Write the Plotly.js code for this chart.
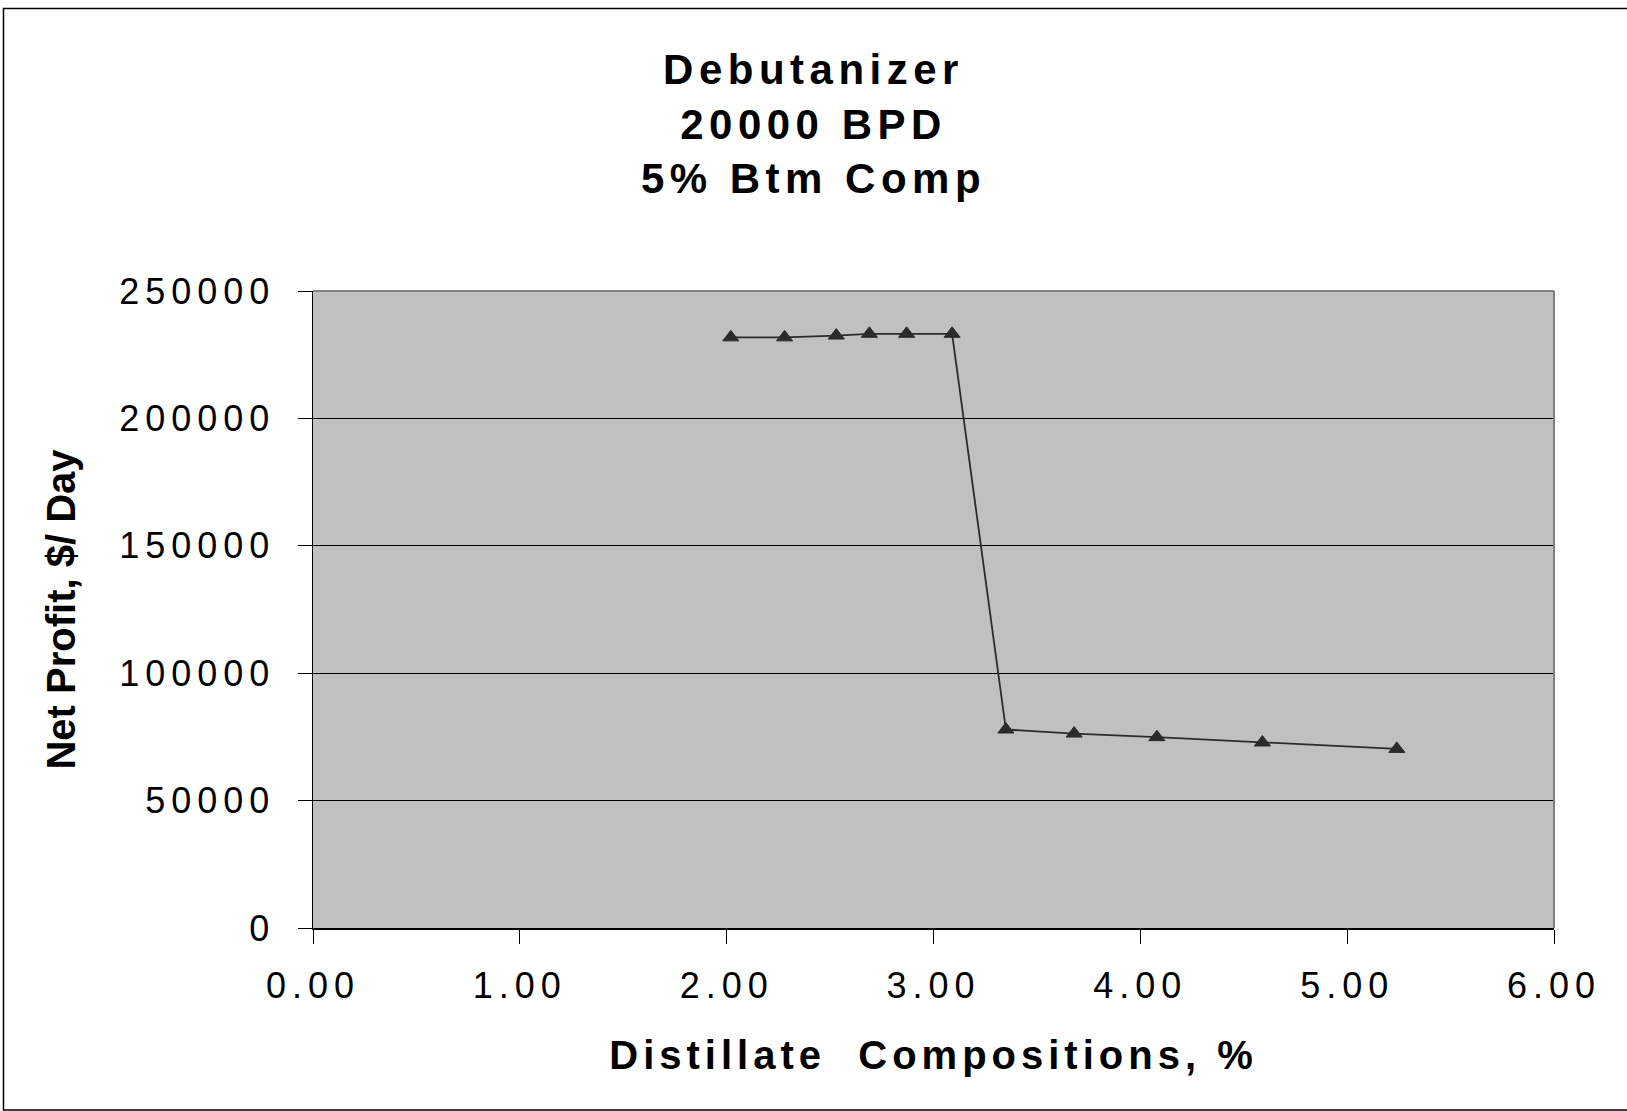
<!DOCTYPE html>
<html>
<head>
<meta charset="utf-8">
<script src="https://cdn.plot.ly/plotly-3.0.1.min.js"></script>
<style>
  html, body { margin: 0; padding: 0; background: #ffffff; }
  #chart { width: 1627px; height: 1111px; }
  #chart .gtitle { letter-spacing: 5.5px; }
  #chart .xtitle { letter-spacing: 5px; }
  #chart .xtick text { letter-spacing: 6px; }
  #chart .ytick text { letter-spacing: 6px; }
</style>
</head>
<body>
<div id="chart"></div>
<script>
// Data
const distillateComp = [2.02, 2.28, 2.53, 2.69, 2.87, 3.09, 3.35, 3.68, 4.08, 4.59, 5.24];
const netProfit = [231800, 231800, 232500, 233200, 233200, 233200, 77900, 76300, 74900, 72800, 70300];

const titleText = "Debutanizer<br>20000 BPD<br>5% Btm Comp";
const xTitleText = "Distillate\u00A0 Compositions, %";
const yTitleText = "Net Profit, $/ Day";

const W = 1627, H = 1111;
const mL = 313, mR = 73, mT = 291, mB = 183;
const pw = W - mL - mR, ph = H - mT - mB;
const px = v => (v - mL) / pw;          // pixel -> paper x
const py = v => (H - mB - v) / ph;      // pixel -> paper y

const font = "Liberation Sans, Arial, Helvetica, sans-serif";

const trace = {
  x: distillateComp,
  y: netProfit,
  type: "scatter",
  mode: "lines+markers",
  line: { color: "#2b2b2b", width: 1.8 },
  marker: { symbol: "triangle-up", size: 14, color: "#2b2b2b", line: { color: "#2b2b2b", width: 1 } },
  hoverinfo: "x+y",
  showlegend: false
};

const layout = {
  width: W, height: H,
  margin: { l: mL, r: mR, t: mT, b: mB, pad: 0 },
  paper_bgcolor: "#ffffff",
  plot_bgcolor: "#c0c0c0",
  font: { family: font, color: "#000000" },
  title: {
    text: titleText,
    font: { family: font, size: 42, weight: "bold", color: "#000000" },
    x: 0.5, xref: "container", xanchor: "center",
    y: 1 - 84 / H, yref: "container", yanchor: "top"
  },
  xaxis: {
    range: [0, 6],
    tickmode: "linear", tick0: 0, dtick: 1,
    tickformat: ".2f",
    ticks: "outside", ticklen: 14, tickwidth: 1, tickcolor: "#000000",
    showline: true, linecolor: "#000000", linewidth: 1.5,
    showgrid: false, zeroline: false,
    tickfont: { family: font, size: 36, color: "#000000" },
    ticklabelstandoff: 11,
    title: { text: xTitleText, font: { family: font, size: 40, weight: "bold", color: "#000000" }, standoff: 36 },
    fixedrange: true
  },
  yaxis: {
    range: [0, 250000],
    tickmode: "linear", tick0: 0, dtick: 50000,
    tickformat: "d",
    ticks: "outside", ticklen: 14, tickwidth: 1, tickcolor: "#000000",
    showline: true, linecolor: "#000000", linewidth: 1.5,
    showgrid: true, gridcolor: "#000000", gridwidth: 1,
    zeroline: false,
    tickfont: { family: font, size: 36, color: "#000000" },
    ticklabelstandoff: 15,
    title: { text: yTitleText, font: { family: font, size: 40, weight: "bold", color: "#000000" }, standoff: 67 },
    fixedrange: true
  },
  shapes: [
    // plot-area border (top and right in gray)
    { type: "line", xref: "paper", yref: "paper", x0: 0, x1: 1, y0: 1, y1: 1, line: { color: "#808080", width: 2 } },
    { type: "line", xref: "paper", yref: "paper", x0: 1, x1: 1, y0: 0, y1: 1, line: { color: "#808080", width: 2 } },
    // outer chart frame
    { type: "rect", xref: "paper", yref: "paper",
      x0: px(3.5), x1: px(1640), y0: py(1110), y1: py(8.5),
      line: { color: "#000000", width: 1.5 }, fillcolor: "rgba(0,0,0,0)" }
  ]
};

Plotly.newPlot("chart", [trace], layout, { displayModeBar: false, staticPlot: true });
</script>
</body>
</html>
